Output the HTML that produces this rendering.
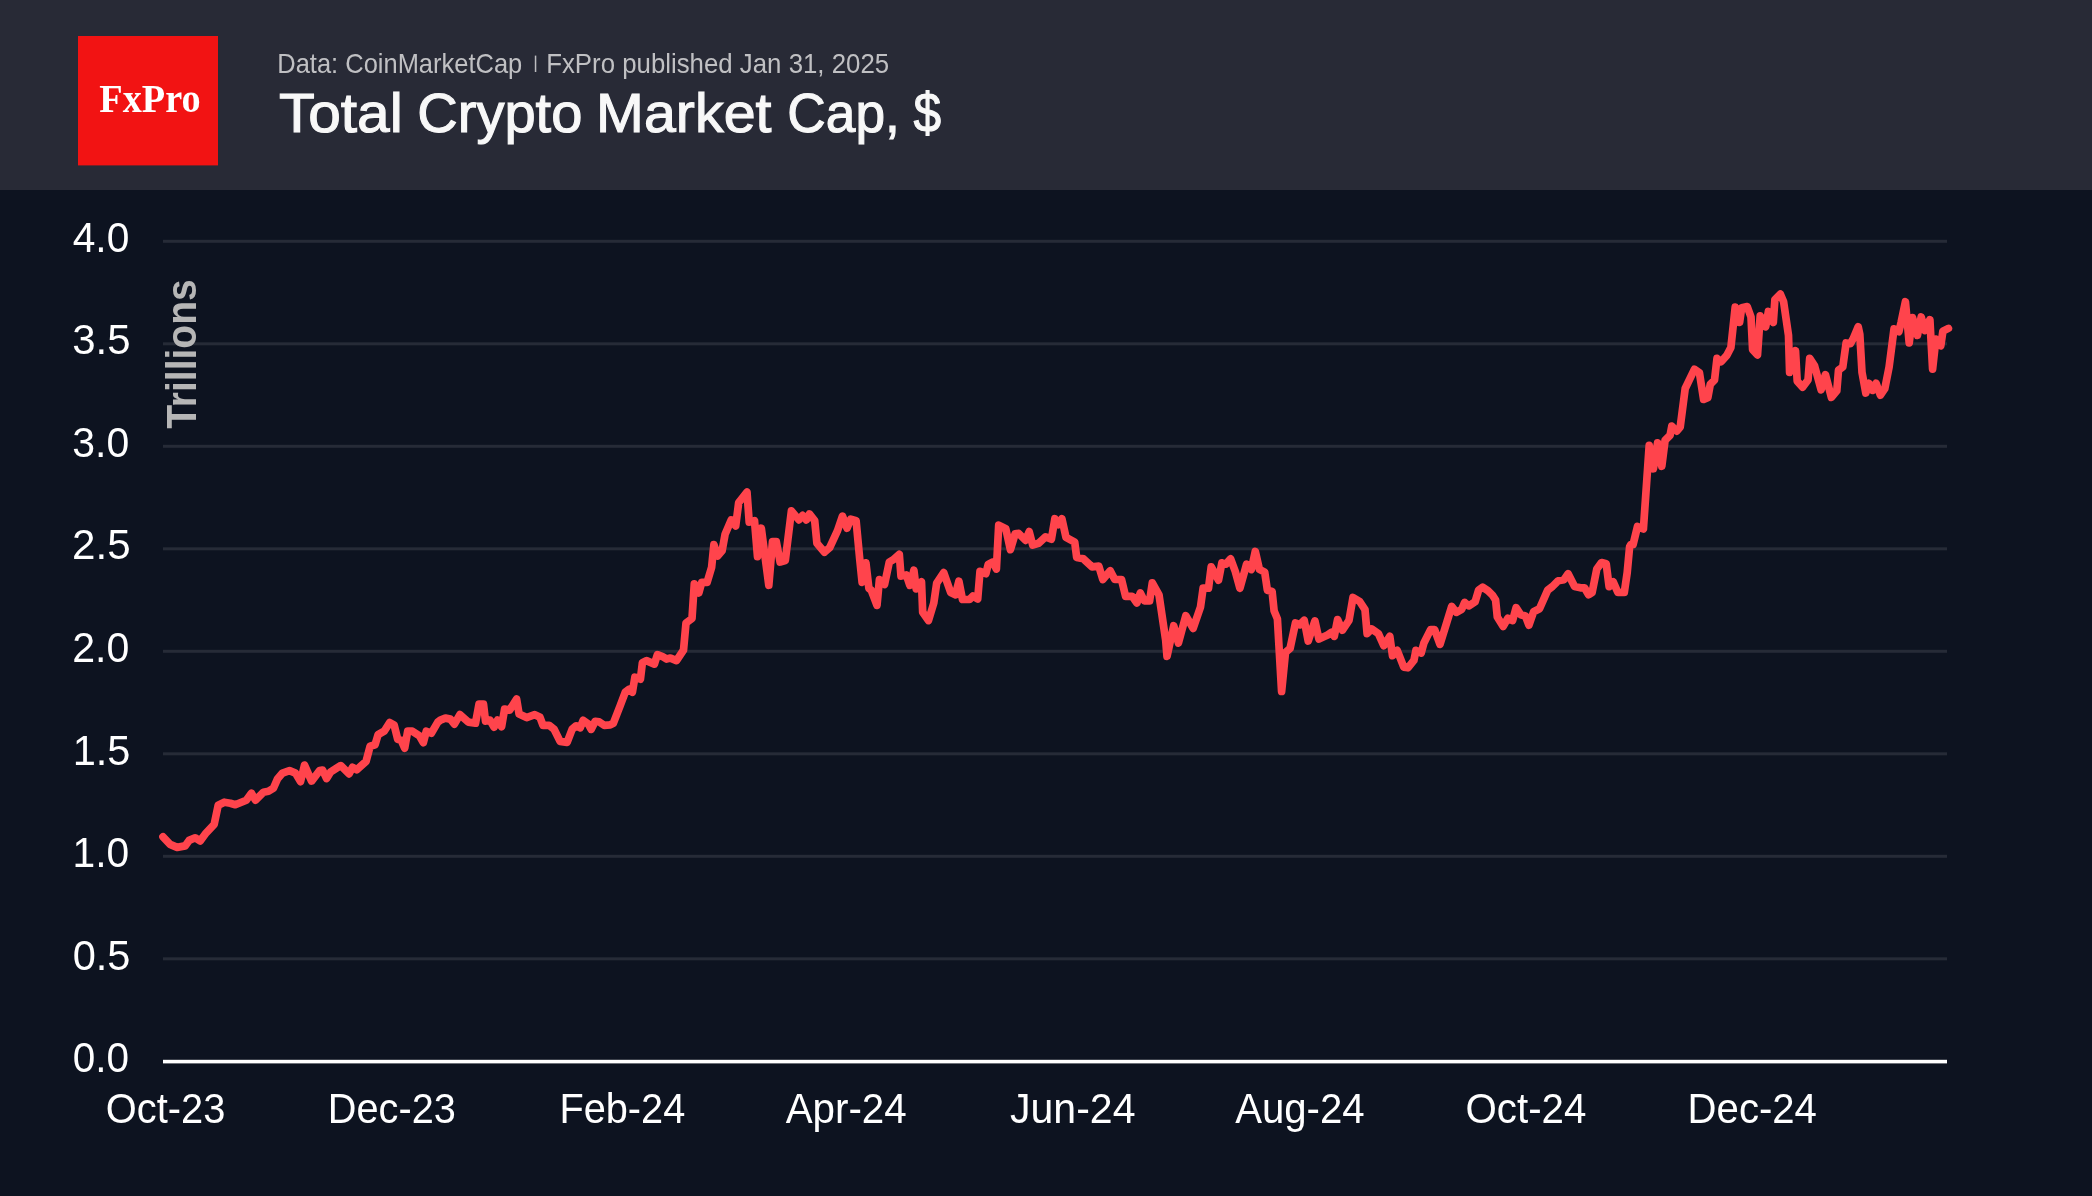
<!DOCTYPE html>
<html><head><meta charset="utf-8">
<style>
html,body{margin:0;padding:0;background:#0d1320;}
body{width:2092px;height:1196px;overflow:hidden;position:relative;}
svg{position:absolute;left:0;top:0;display:block;will-change:transform;}
text{font-family:"Liberation Sans",sans-serif;}
.ax{font-size:42.8px;fill:#ffffff;}
.sub{font-size:27.4px;fill:#c0c0c3;}
.ttl{font-size:56px;fill:#f8f8f8;stroke:#f8f8f8;stroke-width:1.1px;}
.logo{font-family:"Liberation Serif",serif;font-weight:bold;font-size:41px;fill:#ffffff;}
.tri{font-weight:bold;font-size:43px;fill:#b6b6b6;}
</style></head>
<body>
<svg width="2092" height="1196" viewBox="0 0 2092 1196">
<rect x="0" y="0" width="2092" height="1196" fill="#0d1320"/>
<rect x="0" y="0" width="2092" height="190" fill="#282a36"/>
<rect x="78" y="36" width="140" height="129.4" fill="#f21313"/>
<rect x="534.8" y="55.6" width="1.5" height="16.4" fill="#bdbdc0"/>
<rect x="163" y="239.8" width="1784" height="3" fill="#262b37"/>
<rect x="163" y="342.3" width="1784" height="3" fill="#262b37"/>
<rect x="163" y="444.8" width="1784" height="3" fill="#262b37"/>
<rect x="163" y="547.3" width="1784" height="3" fill="#262b37"/>
<rect x="163" y="649.8" width="1784" height="3" fill="#262b37"/>
<rect x="163" y="752.3" width="1784" height="3" fill="#262b37"/>
<rect x="163" y="854.8" width="1784" height="3" fill="#262b37"/>
<rect x="163" y="957.3" width="1784" height="3" fill="#262b37"/>
<rect x="163" y="1059.8" width="1784" height="3.6" fill="#ffffff"/>
<text transform="translate(195.6 428.8) rotate(-90)" class="tri" textLength="149.5" lengthAdjust="spacingAndGlyphs">Trillions</text>
<text id="t1" x="278.93" y="132.0" class="ttl" textLength="123.83" lengthAdjust="spacingAndGlyphs">Total</text>
<text id="t2" x="417.29" y="132.0" class="ttl" textLength="165.09" lengthAdjust="spacingAndGlyphs">Crypto</text>
<text id="t3" x="596.14" y="132.0" class="ttl" textLength="175.37" lengthAdjust="spacingAndGlyphs">Market</text>
<text id="t4" x="787.32" y="132.0" class="ttl" textLength="112.52" lengthAdjust="spacingAndGlyphs">Cap,</text>
<text id="t5" x="913.61" y="132.0" class="ttl" textLength="27.60" lengthAdjust="spacingAndGlyphs">$</text>
<text id="s1" x="277.31" y="72.8" class="sub" textLength="244.92" lengthAdjust="spacingAndGlyphs">Data: CoinMarketCap</text>
<text id="s2" x="546.20" y="72.8" class="sub" textLength="342.92" lengthAdjust="spacingAndGlyphs">FxPro published Jan 31, 2025</text>
<text id="logo" x="99.25" y="112.0" class="logo" textLength="101.36" lengthAdjust="spacingAndGlyphs">FxPro</text>
<text id="x1" x="105.85" y="1122.8" class="ax" textLength="119.49" lengthAdjust="spacingAndGlyphs">Oct-23</text>
<text id="x2" x="327.81" y="1122.8" class="ax" textLength="128.03" lengthAdjust="spacingAndGlyphs">Dec-23</text>
<text id="x3" x="559.46" y="1122.8" class="ax" textLength="125.81" lengthAdjust="spacingAndGlyphs">Feb-24</text>
<text id="x4" x="785.65" y="1122.8" class="ax" textLength="121.11" lengthAdjust="spacingAndGlyphs">Apr-24</text>
<text id="x5" x="1010.03" y="1122.8" class="ax" textLength="125.49" lengthAdjust="spacingAndGlyphs">Jun-24</text>
<text id="x6" x="1235.13" y="1122.8" class="ax" textLength="129.46" lengthAdjust="spacingAndGlyphs">Aug-24</text>
<text id="x7" x="1465.51" y="1122.8" class="ax" textLength="120.93" lengthAdjust="spacingAndGlyphs">Oct-24</text>
<text id="x8" x="1687.60" y="1122.8" class="ax" textLength="129.34" lengthAdjust="spacingAndGlyphs">Dec-24</text>
<text id="y0" x="72.73" y="251.6" class="ax" textLength="56.62" lengthAdjust="spacingAndGlyphs">4.0</text>
<text id="y1" x="72.25" y="354.2" class="ax" textLength="58.34" lengthAdjust="spacingAndGlyphs">3.5</text>
<text id="y2" x="72.32" y="456.79999999999995" class="ax" textLength="56.97" lengthAdjust="spacingAndGlyphs">3.0</text>
<text id="y3" x="72.04" y="559.4" class="ax" textLength="58.56" lengthAdjust="spacingAndGlyphs">2.5</text>
<text id="y4" x="72.16" y="662.0" class="ax" textLength="57.10" lengthAdjust="spacingAndGlyphs">2.0</text>
<text id="y5" x="72.67" y="764.6" class="ax" textLength="57.75" lengthAdjust="spacingAndGlyphs">1.5</text>
<text id="y6" x="72.57" y="867.1999999999999" class="ax" textLength="56.64" lengthAdjust="spacingAndGlyphs">1.0</text>
<text id="y7" x="72.64" y="969.8" class="ax" textLength="57.80" lengthAdjust="spacingAndGlyphs">0.5</text>
<text id="y8" x="72.84" y="1072.3999999999999" class="ax" textLength="56.31" lengthAdjust="spacingAndGlyphs">0.0</text>
<path d="M163.0 836.8 L170.1 844.4 L177.1 847.4 L185.1 845.9 L189.1 840.4 L195.2 837.8 L200.2 840.9 L206.2 832.8 L214.2 824.3 L218.2 805.2 L224.3 802.2 L230.3 803.2 L235.3 804.7 L246.3 800.2 L251.4 793.2 L255.4 800.2 L263.4 792.2 L268.4 791.2 L273.4 788.2 L277.4 779.1 L282.5 773.1 L289.5 770.6 L295.5 773.1 L300.5 781.6 L304.5 765.1 L311.6 781.1 L319.6 770.6 L322.6 770.1 L326.6 778.6 L330.6 772.1 L340.7 765.6 L349.0 773.8 L352.5 767.3 L356.6 769.8 L366.1 761.3 L370.1 746.2 L375.1 744.7 L378.1 734.7 L384.2 731.2 L389.7 722.6 L394.2 725.2 L397.7 739.2 L401.2 740.2 L404.7 748.2 L407.7 731.2 L412.3 731.2 L419.3 735.7 L423.3 742.7 L426.3 731.2 L431.3 733.2 L437.8 722.1 L440.4 720.1 L445.4 718.1 L450.4 719.1 L454.4 724.2 L459.9 714.6 L468.4 722.1 L475.5 723.2 L479.0 704.1 L483.5 704.1 L485.5 721.1 L490.0 720.1 L494.0 727.2 L497.6 720.1 L501.6 726.7 L504.6 709.1 L509.6 710.1 L516.6 699.1 L519.1 714.1 L526.6 717.6 L534.7 714.6 L540.0 717.3 L543.0 725.3 L549.1 725.3 L554.1 729.3 L560.1 741.4 L567.1 742.4 L572.1 729.3 L576.2 725.8 L580.2 727.8 L583.2 720.3 L588.2 723.8 L591.2 729.3 L595.2 721.3 L599.2 721.8 L604.3 725.3 L610.3 724.8 L613.3 723.3 L620.3 705.3 L625.3 692.2 L629.3 689.2 L632.4 692.2 L634.9 677.2 L640.4 679.2 L642.4 662.6 L646.4 660.6 L654.4 664.1 L657.4 654.6 L662.5 656.6 L666.5 659.1 L670.5 658.1 L676.5 660.6 L683.5 650.1 L686.0 623.0 L692.0 618.5 L694.3 583.8 L698.8 592.9 L701.8 582.3 L707.1 582.3 L711.6 567.3 L713.9 544.7 L717.6 556.0 L722.1 550.7 L725.1 534.2 L731.2 519.9 L735.7 525.9 L738.7 502.6 L747.0 492.0 L749.2 522.1 L754.5 520.6 L757.5 556.7 L761.3 528.2 L768.8 585.3 L772.5 541.7 L776.3 541.7 L780.1 562.0 L785.3 560.5 L791.4 510.9 L798.9 519.9 L802.6 515.4 L806.4 519.9 L809.4 513.9 L814.7 520.6 L816.9 543.2 L824.5 552.2 L829.7 547.7 L837.3 531.2 L842.5 516.1 L847.0 528.2 L850.8 519.1 L856.1 520.6 L859.8 559.8 L862.1 582.3 L865.9 562.8 L868.9 588.4 L871.2 590.1 L877.0 605.3 L879.4 579.6 L884.6 584.3 L889.3 562.0 L893.4 559.7 L899.3 554.4 L901.0 576.1 L906.3 574.9 L909.8 585.4 L913.9 570.2 L916.2 588.9 L921.5 581.9 L922.7 612.3 L928.5 620.5 L933.8 603.0 L936.7 583.1 L943.7 572.6 L950.7 592.5 L955.4 594.8 L958.9 581.3 L962.5 599.5 L969.5 599.5 L973.0 596.0 L977.7 598.9 L980.0 571.4 L985.9 573.7 L988.2 564.4 L992.9 562.0 L996.4 569.0 L998.7 525.2 L1005.8 528.7 L1010.4 549.7 L1015.1 533.9 L1018.6 533.4 L1025.6 540.4 L1029.2 531.6 L1032.7 545.1 L1038.5 543.3 L1045.5 536.9 L1051.4 539.2 L1054.9 518.7 L1058.4 524.6 L1061.9 518.7 L1066.0 537.4 L1074.7 542.1 L1076.7 557.5 L1083.4 558.8 L1092.1 566.8 L1098.8 566.2 L1102.8 579.5 L1110.2 570.8 L1114.8 579.5 L1121.5 579.5 L1125.6 596.3 L1132.2 596.3 L1136.9 602.9 L1140.3 592.9 L1144.3 600.9 L1149.6 600.9 L1152.3 582.9 L1159.0 594.9 L1165.7 640.4 L1167.0 656.5 L1173.7 625.7 L1178.4 643.1 L1185.8 615.7 L1193.1 628.4 L1200.5 607.0 L1203.1 588.2 L1208.5 588.2 L1211.2 566.8 L1218.5 580.2 L1221.9 562.8 L1225.9 564.1 L1230.6 558.8 L1235.3 571.5 L1239.9 588.2 L1246.6 564.1 L1251.3 569.5 L1255.3 551.4 L1259.4 569.4 L1264.7 572.1 L1267.4 590.2 L1272.1 591.5 L1274.1 610.9 L1277.4 618.9 L1281.6 691.5 L1285.5 652.4 L1290.1 648.4 L1295.5 622.9 L1299.5 624.9 L1304.2 620.3 L1308.2 641.0 L1314.9 620.9 L1318.9 639.0 L1327.6 635.0 L1331.6 632.3 L1334.3 636.3 L1337.6 619.6 L1342.3 630.3 L1349.0 620.3 L1353.0 597.5 L1359.7 601.5 L1365.0 609.6 L1367.1 633.6 L1371.7 629.0 L1378.4 633.6 L1383.8 645.7 L1389.8 636.3 L1392.5 655.7 L1397.2 650.4 L1403.8 667.1 L1407.9 667.8 L1413.9 660.4 L1415.9 650.4 L1421.2 653.0 L1423.9 643.0 L1430.6 629.6 L1434.6 629.6 L1440.0 644.3 L1451.7 606.5 L1456.4 612.3 L1461.7 609.4 L1464.6 602.4 L1468.7 605.9 L1475.1 601.8 L1478.6 590.1 L1482.7 587.2 L1488.0 590.7 L1492.7 595.4 L1495.6 600.1 L1497.3 617.0 L1503.2 626.4 L1507.9 618.2 L1512.6 620.5 L1516.1 607.7 L1520.7 614.7 L1525.4 615.9 L1528.9 625.2 L1533.6 611.8 L1539.5 608.8 L1547.7 590.1 L1552.3 586.6 L1558.2 580.7 L1564.0 579.6 L1568.1 573.7 L1574.6 586.6 L1580.4 587.8 L1584.5 587.8 L1588.6 594.8 L1592.1 592.5 L1596.8 569.0 L1601.5 562.6 L1606.2 563.8 L1609.1 586.6 L1613.2 581.9 L1617.9 592.5 L1624.3 592.5 L1627.2 572.6 L1629.6 546.8 L1630.8 544.5 L1633.1 544.5 L1637.5 526.5 L1643.4 529.0 L1649.2 445.4 L1653.4 468.8 L1657.6 442.8 L1661.8 466.3 L1665.1 440.3 L1670.1 435.3 L1671.8 426.1 L1676.8 431.1 L1680.2 427.0 L1685.2 388.5 L1694.4 369.3 L1699.4 372.6 L1703.6 399.4 L1707.8 397.7 L1710.3 384.3 L1714.5 380.1 L1717.0 358.4 L1721.1 361.7 L1727.0 355.1 L1730.9 347.4 L1735.2 307.2 L1739.6 322.4 L1741.7 307.7 L1747.2 306.6 L1751.0 317.0 L1752.6 349.6 L1757.5 355.0 L1760.2 315.9 L1765.7 326.7 L1768.4 311.5 L1773.3 322.4 L1774.9 299.6 L1780.3 294.1 L1783.6 301.7 L1788.5 335.4 L1789.6 372.4 L1795.5 350.7 L1797.2 381.1 L1802.6 387.1 L1808.0 380.0 L1809.7 358.3 L1814.6 365.9 L1821.1 389.8 L1825.4 374.6 L1831.4 397.4 L1836.8 390.9 L1838.5 370.2 L1842.8 367.0 L1846.1 343.0 L1850.4 343.6 L1853.2 338.7 L1858.2 326.7 L1859.8 334.3 L1862.0 372.4 L1865.8 393.0 L1869.0 383.3 L1872.8 390.3 L1876.1 383.3 L1880.4 395.2 L1884.8 388.7 L1889.1 367.0 L1894.0 328.9 L1898.9 331.6 L1901.1 322.4 L1905.4 301.7 L1909.2 343.0 L1912.5 317.5 L1917.4 335.4 L1921.2 317.0 L1925.0 330.5 L1929.9 319.7 L1932.6 369.1 L1935.9 339.2 L1940.8 345.8 L1942.9 331.1 L1948.4 328.4" fill="none" stroke="#ff444c" stroke-width="7.7" stroke-linejoin="round" stroke-linecap="round"/>
</svg>
</body></html>
